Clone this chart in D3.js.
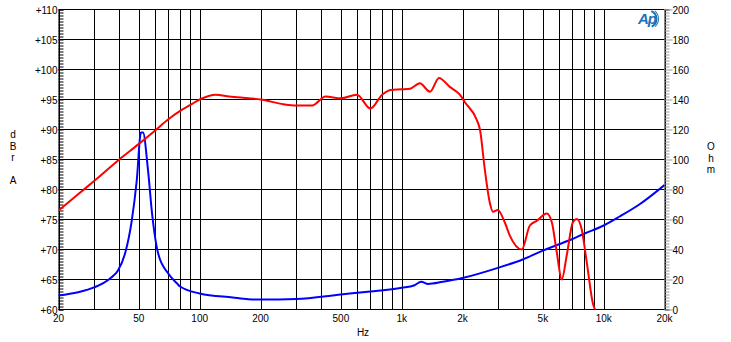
<!DOCTYPE html>
<html>
<head>
<meta charset="utf-8">
<script src="https://cdn.jsdelivr.net/npm/d3@7"></script>
<style>
  html, body { margin: 0; padding: 0; background: #fff; }
  text { font-family: "Liberation Sans", Arial, sans-serif; font-size: 10px; fill: #000; }
</style>
</head>
<body>
<svg id="chart" width="731" height="342"></svg>
<script>
// frequency response (dBr A) - red
const splFreq = [20, 25, 30, 40, 50, 60, 70, 80, 90, 100, 120, 140, 175, 200, 260, 300, 360, 420, 500, 600, 700, 800, 880, 1000, 1100, 1230, 1380, 1530, 1730, 1940, 2060, 2360, 2440, 2580, 2730, 2830, 2990, 3240, 3430, 3930, 4310, 4670, 5230, 5540, 5860, 6200, 6560, 7030, 7360, 7790, 8250, 8830, 9230];
const splDb = [76.5, 79.2, 81.4, 85.0, 87.6, 89.8, 91.7, 93.1, 94.1, 95.0, 95.8, 95.5, 95.2, 95.0, 94.2, 94.0, 94.0, 95.5, 95.2, 95.8, 93.5, 95.8, 96.6, 96.7, 96.8, 97.7, 96.3, 98.6, 97.1, 95.8, 94.5, 91.5, 90.0, 83.3, 77.8, 76.3, 76.6, 74.5, 72.3, 70.0, 74.0, 74.8, 76.0, 74.5, 69.5, 65.0, 69.0, 74.5, 75.1, 73.3, 67.8, 61.1, 59.5];

// impedance (Ohm) - blue
const impFreq = [20, 25, 30, 36, 39.4, 42.7, 46.1, 48.8, 51.2, 52.4, 55.5, 58.1, 62.3, 69.9, 77.3, 80, 100, 146, 174, 200, 300, 500, 700, 1000, 1150, 1250, 1350, 1600, 2000, 3000, 4000, 5000, 7000, 8000, 10000, 12000, 15000, 20000];
const impOhm = [9.3, 11.5, 14.7, 20.7, 26, 37.3, 59.3, 86, 118, 118, 92.7, 64, 37.3, 24, 17.3, 15.3, 10.7, 8, 6.9, 6.6, 7, 10, 12, 14.5, 16, 18.5, 17, 18.5, 21, 27.8, 33.5, 39.3, 47, 50.5, 56, 62, 70, 83];

const xTickLabels = [20, 50, 100, 200, 500, 1000, 2000, 5000, 10000, 20000];
const gridFreqs = [20, 30, 40, 50, 60, 70, 80, 90, 100, 200, 300, 400, 500, 600, 700, 800, 900, 1000, 2000, 3000, 4000, 5000, 6000, 7000, 8000, 9000, 10000, 20000];
const dbTicks = [60, 65, 70, 75, 80, 85, 90, 95, 100, 105, 110];
const ohmTicks = [0, 20, 40, 60, 80, 100, 120, 140, 160, 180, 200];

const margin = { left: 58.5, right: 664.5, top: 9.5, bottom: 309.5 };

const svg = d3.select('#chart');

const x = d3.scaleLog().domain([20, 20000]).range([margin.left, margin.right]);
const yDb = d3.scaleLinear().domain([60, 110]).range([margin.bottom, margin.top]);
const yOhm = d3.scaleLinear().domain([0, 200]).range([margin.bottom, margin.top]);

// grid
svg.append('g')
  .selectAll('line')
  .data(gridFreqs)
  .join('line')
  .attr('x1', d => Math.round(x(d)) + 0.5)
  .attr('x2', d => Math.round(x(d)) + 0.5)
  .attr('y1', margin.top)
  .attr('y2', margin.bottom)
  .attr('stroke', '#000')
  .attr('stroke-width', 1);

svg.append('g')
  .selectAll('line')
  .data(dbTicks)
  .join('line')
  .attr('x1', margin.left)
  .attr('x2', margin.right)
  .attr('y1', d => yDb(d))
  .attr('y2', d => yDb(d))
  .attr('stroke', '#000')
  .attr('stroke-width', 1);

// left axis: minor ticks inward, labels
const leftAxis = d3.axisLeft(yDb)
  .tickValues(d3.range(60, 110.01, 0.5))
  .tickSize(-5)
  .tickFormat(d => (d % 5 === 0 ? '+' + d : ''));

const gl = svg.append('g')
  .attr('transform', `translate(${ margin.left },0)`)
  .call(leftAxis);
gl.select('.domain').attr('stroke', '#000');
gl.selectAll('.tick line').attr('stroke', '#000');
gl.selectAll('.tick text')
  .attr('x', -1)
  .attr('dy', '0.35em')
  .style('font-family', '"Liberation Sans", Arial, sans-serif')
  .style('font-size', '10px')
  .attr('fill', '#000');

// right axis: grey outward ticks
const rightAxis = d3.axisRight(yOhm)
  .tickValues(d3.range(0, 200.01, 2))
  .tickSize(5)
  .tickFormat(d => (d % 20 === 0 ? d : ''));

const gr = svg.append('g')
  .attr('transform', `translate(${ margin.right },0)`)
  .call(rightAxis);
gr.select('.domain').attr('stroke', '#000');
gr.selectAll('.tick line').attr('stroke', '#999');
gr.selectAll('.tick')
  .filter(d => d % 20 === 0)
  .select('line')
  .attr('x2', 8);
gr.selectAll('.tick text')
  .attr('x', 8)
  .attr('dy', '0.35em')
  .style('font-family', '"Liberation Sans", Arial, sans-serif')
  .style('font-size', '10px')
  .attr('fill', '#000');

// bottom labels
svg.append('g')
  .selectAll('text')
  .data(xTickLabels)
  .join('text')
  .attr('x', d => x(d))
  .attr('y', 322)
  .attr('text-anchor', 'middle')
  .text(d => (d >= 1000 ? d / 1000 + 'k' : d));

svg.append('text')
  .attr('x', 363)
  .attr('y', 336)
  .attr('text-anchor', 'middle')
  .text('Hz');

// vertical axis titles, one letter per row
const leftTitle = ['d', 'B', 'r', '', 'A'];
svg.append('g')
  .selectAll('text')
  .data(leftTitle)
  .join('text')
  .attr('x', 13)
  .attr('y', (d, i) => 138 + i * 11.5)
  .attr('text-anchor', 'middle')
  .text(d => d);

const rightTitle = ['O', 'h', 'm'];
svg.append('g')
  .selectAll('text')
  .data(rightTitle)
  .join('text')
  .attr('x', 711)
  .attr('y', (d, i) => 150 + i * 11.5)
  .attr('text-anchor', 'middle')
  .text(d => d);

// curves
svg.append('clipPath')
  .attr('id', 'plot-clip')
  .append('rect')
  .attr('x', margin.left)
  .attr('y', margin.top - 2)
  .attr('width', margin.right - margin.left)
  .attr('height', margin.bottom - margin.top + 2);

const splLine = d3.line()
  .x((d, i) => x(splFreq[i]))
  .y(d => yDb(d))
  .curve(d3.curveMonotoneX);

const impLine = d3.line()
  .x((d, i) => x(impFreq[i]))
  .y(d => yOhm(d))
  .curve(d3.curveMonotoneX);

svg.append('path')
  .datum(impOhm)
  .attr('clip-path', 'url(#plot-clip)')
  .attr('d', impLine)
  .attr('fill', 'none')
  .attr('stroke', '#0000ff')
  .attr('stroke-width', 2);

svg.append('path')
  .datum(splDb)
  .attr('clip-path', 'url(#plot-clip)')
  .attr('d', splLine)
  .attr('fill', 'none')
  .attr('stroke', '#ff0000')
  .attr('stroke-width', 2);

// Ap logo
const logo = svg.append('g').attr('transform', 'translate(648,19)');
logo.append('path')
  .attr('d', d3.arc()({ innerRadius: 7.5, outerRadius: 9.5, startAngle: 0.4, endAngle: 2.7 }))
  .attr('fill', '#1a73b8');
logo.append('path')
  .attr('d', d3.arc()({ innerRadius: 10, outerRadius: 11, startAngle: 0.7, endAngle: 2.4 }))
  .attr('fill', '#1a73b8');
logo.append('text')
  .attr('x', -1)
  .attr('y', 5)
  .attr('text-anchor', 'middle')
  .style('font-size', '15px')
  .style('font-weight', 'bold')
  .style('font-style', 'italic')
  .style('fill', '#1a73b8')
  .style('letter-spacing', '-1px')
  .text('Ap');
</script>
</body>
</html>
